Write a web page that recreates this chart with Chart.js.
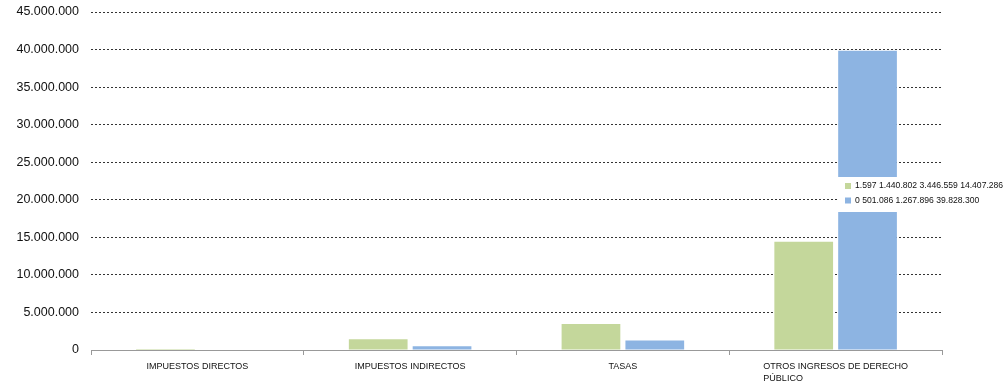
<!DOCTYPE html>
<html>
<head>
<meta charset="utf-8">
<script src="https://cdn.jsdelivr.net/npm/chart.js@4"></script>
<style>
  html, body { margin: 0; padding: 0; background: #fff; }
  #wrap { width: 1003px; height: 389px; position: relative; }
</style>
</head>
<body>
<div id="wrap"><canvas id="chart" width="1003" height="389"></canvas></div>
<script>
// categorias y series
const categories = [
  ['IMPUESTOS DIRECTOS'],
  ['IMPUESTOS INDIRECTOS'],
  ['TASAS'],
  ['OTROS INGRESOS DE DERECHO', 'PÚBLICO']
];
const seriesNames = ['1.597 1.440.802 3.446.559 14.407.286', '0 501.086 1.267.896 39.828.300'];
const greenValues = [1597, 1440802, 3446559, 14407286];
const blueValues = [0, 501086, 1267896, 39828300];
const yTicks = [0, 5000000, 10000000, 15000000, 20000000, 25000000, 30000000, 35000000, 40000000, 45000000];

const FONT = "'Liberation Sans', Arial, sans-serif";

function fmt(v) {
  return String(Math.round(v)).replace(/\B(?=(\d{3})+(?!\d))/g, '.');
}

// etiquetas de categoria: bloque centrado, lineas alineadas a la izquierda
const catLabels = {
  id: 'catLabels',
  afterDraw(chart) {
    const ctx = chart.ctx;
    const x = chart.scales.x;
    ctx.save();
    ctx.font = '9px ' + FONT;
    ctx.fillStyle = '#111';
    ctx.textBaseline = 'middle';
    categories.forEach((lines, i) => {
      const cx = x.getPixelForValue(i);
      const w = Math.max(...lines.map(l => ctx.measureText(l).width));
      lines.forEach((l, j) => {
        ctx.textAlign = 'left';
        ctx.fillText(l, cx - w / 2, 367 + j * 11.5);
      });
    });
    ctx.restore();
  }
};

// leyenda en caja blanca sobre el area
const boxLegend = {
  id: 'boxLegend',
  afterDraw(chart) {
    const ctx = chart.ctx;
    ctx.save();
    ctx.fillStyle = '#fff';
    ctx.fillRect(838, 177, 165, 35);
    ctx.font = '8.6px ' + FONT;
    ctx.textBaseline = 'middle';
    ctx.textAlign = 'left';
    chart.data.datasets.forEach((ds, i) => {
      const y = 186 + i * 14.5;
      ctx.fillStyle = ds.backgroundColor;
      ctx.fillRect(845, y - 3, 6, 6);
      ctx.fillStyle = '#111';
      ctx.fillText(ds.label, 855, y);
    });
    ctx.restore();
  }
};

new Chart(document.getElementById('chart'), {
  type: 'bar',
  data: {
    labels: categories.map(c => c.join(' ')),
    datasets: [
      { label: seriesNames[0], data: greenValues, backgroundColor: '#C4D79B' },
      { label: seriesNames[1], data: blueValues, backgroundColor: '#8DB4E2' }
    ]
  },
  options: {
    responsive: false,
    animation: false,
    events: [],
    layout: { padding: { top: 12, right: 61, bottom: 0, left: 0 } },
    datasets: { bar: { categoryPercentage: 0.6, barPercentage: 0.92 } },
    plugins: { legend: { display: false }, tooltip: { enabled: false } },
    scales: {
      x: {
        grid: { drawOnChartArea: false, drawTicks: true, tickLength: 5, color: '#999' },
        border: { display: true, color: '#999', dash: [2, 1] },
        ticks: { display: false },
        afterFit(s) { s.height = 39; s.paddingLeft = 0; s.paddingRight = 0; }
      },
      y: {
        min: 0,
        max: 45000000,
        afterBuildTicks(s) { s.ticks = yTicks.map(v => ({ value: v })); },
        grid: {
          drawTicks: false,
          color: c => (c.tick && c.tick.value === 0) ? 'rgba(0,0,0,0)' : '#333'
        },
        border: { display: false, dash: [2, 2] },
        ticks: {
          padding: 12,
          color: '#111',
          font: { family: FONT, size: 12.5 },
          callback: v => fmt(v)
        },
        afterFit(s) { s.width = 91; s.paddingTop = 0; s.paddingBottom = 0; }
      }
    }
  },
  plugins: [catLabels, boxLegend]
});
</script>
</body>
</html>
